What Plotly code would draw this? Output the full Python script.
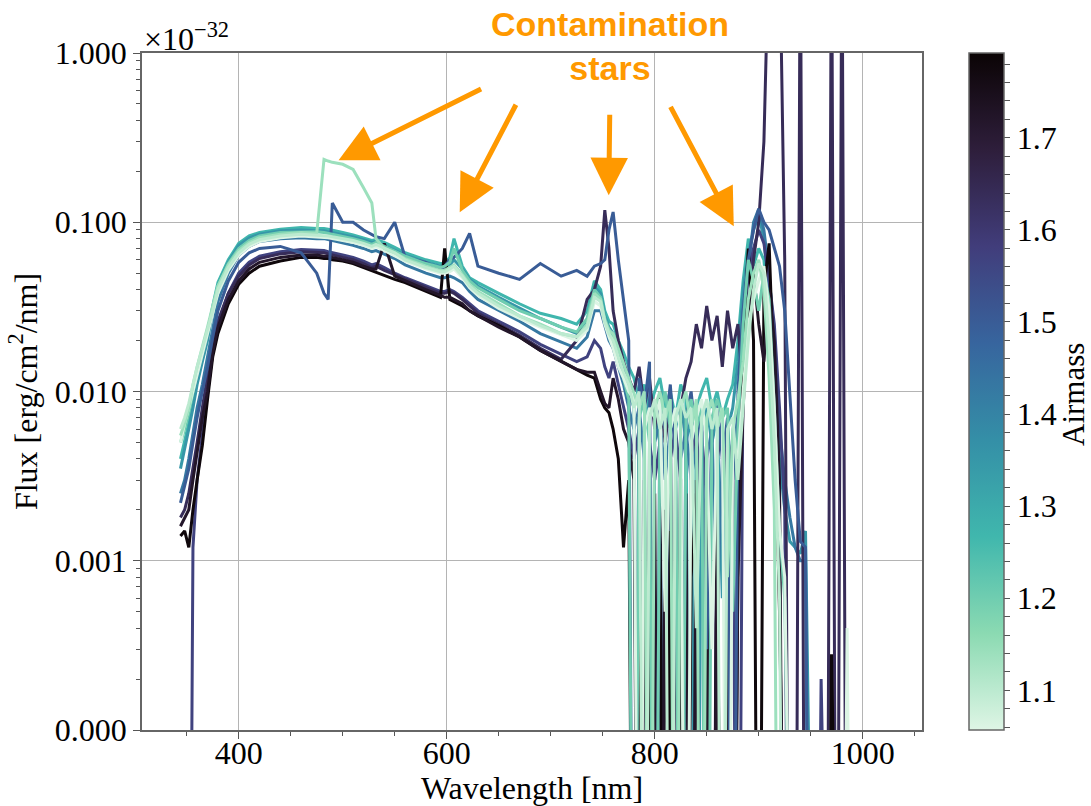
import plotly.graph_objects as go

# ---------------- data (flux in units of 1e-3 x 1e-32 erg/cm2/nm; 0 = at/below floor) -------------
wavelength = [344, 348, 352, 356, 360, 365, 370, 375, 380, 390,
              400, 410, 420, 440, 460, 475, 482, 486, 490, 500,
              510, 520, 528, 532, 540, 550, 560, 580, 594, 598,
              603, 607, 615, 622, 630, 650, 670, 690, 710, 725,
              735, 742, 748, 752, 756,
              760, 765, 770, 775, 780, 785, 790, 795, 800, 805,
              810, 815, 820, 825, 830, 835, 840, 845, 850, 855,
              860, 865, 870, 875, 880, 885, 890, 895, 900, 905,
              910, 915, 920, 925, 930, 935, 940, 945, 950, 955,
              960, 965, 970, 975, 980, 985, 990]

airmass = [1.06, 1.10, 1.14, 1.20, 1.27, 1.35, 1.43, 1.50, 1.57, 1.64, 1.72, 1.78]

flux_am106 = [5, 6.5, 8, 10, 13, 17, 22, 29, 38, 52, 64, 72, 77, 81, 83, 82, 82, 81, 80, 78,
              76, 73, 70, 72, 68, 64, 59, 53, 50, 50, 51, 53, 47, 41, 37, 31, 27, 24, 21.5, 20,
              23, 34, 32, 25, 21,
              18, 14, 12, 10, 9, 0, 6, 8, 7, 9, 0.5, 6, 8, 6, 0, 5, 7, 9, 5, 0.3,
              6, 8, 0, 5, 4, 10, 25, 35, 45, 55, 30, 8, 1.5, 0.8, 0, 0, 0, 0, 0, 0,
              0, 0, 0, 0, 0, 0.4, 0]
flux_am110 = [6, 7, 8.5, 11, 14, 18, 23, 30, 40, 54, 66, 74, 79, 83, 85, 84, 84, 83, 82, 80,
              78, 75, 72, 74, 70, 66, 60, 54, 51, 51, 53, 55, 48, 42, 38, 32, 28, 24.5, 22, 21,
              24, 36, 34, 26, 22,
              20, 16, 13, 11, 8, 10, 0, 7, 9, 6, 8, 0, 7, 9, 7, 8, 0.4, 7, 9, 6,
              8, 0, 6, 7, 3, 8, 20, 40, 57, 50, 20, 5, 0.6, 0, 0, 0, 0, 0, 0, 0,
              0, 0, 0, 0, 0, 0, 0]
flux_am114 = [5.5, 6.5, 8, 11, 14, 18, 24, 32, 42, 56, 68, 76, 81, 85, 87, 86, 235, 230, 226, 220,
              205, 160, 130, 80, 70, 66, 61, 55, 52, 52, 54, 56, 49, 43, 39, 33, 28, 25, 22, 21,
              25, 38, 35, 26, 23,
              22, 18, 15, 12, 10, 8, 10, 0, 8, 10, 7, 9, 0, 8, 10, 6, 9, 0, 7, 9,
              6, 8, 0.8, 6, 9, 15, 35, 50, 60, 40, 12, 2, 0, 0, 0, 0, 0, 0, 0, 0,
              0, 0, 0, 0, 0, 0, 0]
flux_am120 = [5, 6, 7.5, 10, 13, 17, 23, 31, 42, 57, 70, 78, 83, 87, 88, 88, 87, 86, 85, 83,
              80, 77, 74, 76, 72, 68, 63, 57, 54, 55, 58, 70, 52, 45, 41, 35, 30, 27, 24, 22.5,
              27, 40, 36, 27, 23,
              20, 15, 12, 9, 0, 7, 9, 5, 0, 7, 10, 6, 8, 0, 7, 9, 6, 8, 0, 7,
              9, 7, 8, 0.5, 6, 25, 60, 45, 30, 50, 35, 8, 1.5, 0.6, 0, 0, 0, 0, 0, 0,
              0, 0, 0, 0, 0, 0, 0]
flux_am127 = [4, 5, 6.5, 9, 12, 16, 22, 32, 44, 60, 75, 83, 87, 91, 93, 92, 92, 91, 90, 87,
              84, 81, 78, 79, 76, 71, 66, 60, 57, 57, 62, 80, 55, 47, 44, 38, 33, 29, 27, 25,
              30, 45, 40, 30, 26,
              25, 20, 17, 14, 12, 9, 11, 8, 10, 12, 8, 10, 7, 11, 9, 0, 8, 10, 12, 8,
              10, 7, 9, 11, 20, 45, 80, 55, 70, 60, 25, 6, 1.2, 0, 0, 0, 0, 0, 0, 0,
              0, 0, 0, 0, 0, 0, 0]
flux_am135 = [3.5, 4.5, 6, 8, 11, 15, 20, 30, 42, 58, 73, 81, 85, 89, 90, 89, 89, 88, 87, 85,
              82, 79, 76, 77, 73, 69, 64, 58, 55, 55, 56, 60, 53, 46, 42, 36, 31, 27, 24, 22,
              26, 42, 38, 28, 24,
              22, 18, 14, 10, 8, 0, 6, 9, 7, 5, 0, 8, 6, 9, 5, 7, 0, 6, 8, 5,
              7, 0.6, 6, 8, 15, 40, 65, 90, 110, 80, 35, 10, 4, 2, 1.3, 1.2, 1.1, 1.5, 0, 0,
              0, 0, 0, 0, 0, 0, 0]
flux_am143 = [2.5, 3, 4, 5.5, 8, 11, 16, 24, 34, 50, 64, 72, 77, 80, 81, 80, 80, 79, 78, 76,
              73, 70, 67, 68, 65, 61, 56, 50, 47, 47, 48, 47, 44, 39, 35, 30, 26, 22, 19.5, 18,
              21, 30, 30, 24, 20,
              18, 14, 11, 8, 6, 8, 4, 0, 5, 7, 3, 6, 0, 4, 6, 3, 5, 0, 4, 6,
              0.5, 4, 6, 3, 8, 30, 55, 100, 120, 90, 50, 20, 6, 3, 1.8, 1.2, 1.0, 1.0, 0, 0,
              0, 0, 0, 0, 0, 0, 0]
flux_am150 = [2.2, 2.8, 3.5, 5, 7, 10, 14, 21, 30, 45, 58, 66, 70, 72, 66, 50, 38, 35, 130, 100,
              100, 90, 85, 82, 80, 100, 62, 58, 52, 55, 60, 62, 70, 86, 55, 50, 46, 57, 48, 52,
              48, 55, 57, 60, 90,
              115, 60, 35, 20, 0, 12, 8, 15, 0, 9, 6, 11, 4, 0, 7, 10, 5, 8, 0.3, 6,
              9, 4, 7, 0, 10, 30, 60, 90, 120, 100, 90, 70, 55, 30, 10, 3, 1.3, 1.2, 0, 0,
              0, 0, 0, 0, 0, 0, 0]
flux_am157 = [0, 0, 0, 1.2, 3, 5.5, 10, 17, 25, 38, 50, 58, 63, 67, 69, 68, 68, 67, 66, 64,
              62, 59, 56, 57, 54, 50, 47, 42, 39, 39, 40, 39, 36, 33, 30, 26, 22.5, 19, 16.5, 15,
              16, 20, 18, 14, 12,
              15, 11, 8, 6, 4, 6, 0, 5, 3, 5, 0, 4, 6, 3, 0, 4, 6, 2, 5, 0,
              4, 6, 3, 5, 0, 20, 50, 70, 90, 75, 45, 25, 8, 2, 0, 0, 0, 0, 0, 0,
              0.2, 0, 0, 0, 0, 0, 0]
flux_am164 = [1.8, 2, 2.5, 3.5, 5, 8, 12, 19, 26, 38, 48, 56, 61, 65, 67, 66, 66, 65, 64, 62,
              60, 57, 54, 55, 52, 49, 46, 41, 38, 38, 39, 38, 35, 32, 29, 25, 21.5, 18, 15.5, 20,
              35, 40, 55, 118, 70,
              30, 20, 15, 12, 10, 14, 8, 12, 6, 10, 5, 9, 0, 8, 12, 15, 25, 18, 32, 20,
              28, 14, 30, 18, 25, 10, 30, 60, 100, 300, 5000, 5000, 5000, 60, 0, 0, 9000, 0, 0, 0,
              0, 0, 9000, 0, 9000, 0, 0]
flux_am172 = [1.6, 1.8, 2, 3, 4.5, 7, 10, 17, 24, 35, 45, 53, 58, 62, 64, 64, 63, 63, 62, 60,
              58, 55, 53, 53, 75, 48, 45, 40, 37, 36, 36, 35, 33, 30, 28, 24, 21, 17.5, 15, 13.5,
              13, 13, 10, 8.5, 8,
              12, 9, 6, 5, 3, 0, 3, 0, 2.5, 0, 2, 0, 3, 0, 2.5, 0, 3, 0, 2, 0,
              2.5, 0, 1.5, 0, 0.8, 8, 30, 50, 25, 15, 40, 20, 3, 0, 0, 0, 0, 0, 0, 0,
              0, 0, 0, 0, 0, 0, 0]
flux_am178 = [1.4, 1.5, 1.2, 2, 3, 4.8, 9, 16, 22, 33, 43, 50, 55, 59, 62, 62, 61, 61, 60, 59,
              57, 54, 52, 51, 49, 46, 44, 39, 36, 70, 35, 34, 32, 30, 28, 24.5, 21, 17.5, 15, 13.5,
              12.5, 12, 9, 8, 7.5,
              6, 4, 1.2, 3, 0, 2, 0, 1.8, 0, 2.2, 0, 1.5, 0, 2, 0, 0.8, 2.5, 0, 1.6, 0,
              2, 0, 2.2, 0, 1, 20, 70, 20, 0, 40, 75, 10, 0.5, 0, 0, 0, 0, 0, 0, 0,
              0, 0, 0.28, 0, 0, 0, 0]

flux_series = [flux_am106, flux_am110, flux_am114, flux_am120, flux_am127, flux_am135,
               flux_am143, flux_am150, flux_am157, flux_am164, flux_am172, flux_am178]

# drawing order (observation order): teal/blue first, then dark, then light mint on top
draw_order = [1.27, 1.35, 1.43, 1.57, 1.64, 1.78, 1.72, 1.50, 1.20, 1.06, 1.14, 1.10]

y_ticks = [1e-4, 1e-3, 1e-2, 1e-1, 1]
y_ticktext = ["0.000", "0.001", "0.010", "0.100", "1.000"]
x_ticks = [400, 600, 800, 1000]
cbar_ticks = [1.1, 1.2, 1.3, 1.4, 1.5, 1.6, 1.7]

for s in flux_series:
    assert len(s) == len(wavelength), (len(s), len(wavelength))

# ---------------- styling ----------------
CMIN, CMAX = 1.057, 1.792
mako_r = [(0.0, '#def5e5'), (1/7, '#8bdab2'), (2/7, '#40b7ad'), (3/7, '#348fa7'),
          (4/7, '#37659e'), (5/7, '#413d7b'), (6/7, '#2e1e3b'), (1.0, '#0b0405')]


def hex2rgb(h):
    h = h.lstrip('#')
    return tuple(int(h[i:i + 2], 16) for i in (0, 2, 4))


def cmap(v):
    p = min(max((v - CMIN) / (CMAX - CMIN), 0), 1)
    for (p0, c0), (p1, c1) in zip(mako_r[:-1], mako_r[1:]):
        if p0 <= p <= p1:
            t = (p - p0) / (p1 - p0)
            a, b = hex2rgb(c0), hex2rgb(c1)
            return 'rgb(%d,%d,%d)' % tuple(round(a[i] + (b[i] - a[i]) * t) for i in range(3))
    return mako_r[-1][1]


SERIF = "Liberation Serif"
fig = go.Figure()

for am in draw_order:
    i = airmass.index(am)
    fig.add_trace(go.Scatter(
        x=wavelength,
        y=[max(v, 1e-4) * 1e-3 for v in flux_series[i]],
        mode='lines', line=dict(color=cmap(airmass[i]), width=3),
        showlegend=False, hoverinfo='skip'))

# colorbar carrier
minor_cb = [round(1.06 + 0.02 * k, 2) for k in range(37)]
cb_vals = sorted(set([v for v in minor_cb if CMIN <= v <= CMAX] + cbar_ticks))
cb_text = [("%.1f" % v) if any(abs(v - t) < 1e-9 for t in cbar_ticks) else "" for v in cb_vals]
fig.add_trace(go.Scatter(
    x=[None], y=[None], mode='markers', showlegend=False,
    marker=dict(color=[CMIN], cmin=CMIN, cmax=CMAX,
                colorscale=[[p, c] for p, c in mako_r], showscale=True,
                colorbar=dict(x=969 / 1091, xref='container', xanchor='left',
                              y=0.5, yanchor='middle', len=1, lenmode='fraction',
                              thickness=35, ypad=0, xpad=0,
                              outlinewidth=1.5, outlinecolor='#666',
                              ticks='outside', ticklen=6, tickwidth=1.2, tickcolor='#555',
                              tickvals=cb_vals, ticktext=cb_text,
                              tickfont=dict(family=SERIF, size=32, color='black')))))

fig.update_layout(
    width=1091, height=806,
    margin=dict(l=142, r=169, t=53, b=76, autoexpand=False),
    paper_bgcolor='white', plot_bgcolor='white',
    font=dict(family=SERIF, size=32, color='black'),
    xaxis=dict(range=[307, 1057], tickvals=x_ticks, ticks='outside', ticklen=7,
               tickwidth=1.2, tickcolor='#555', ticklabelstandoff=-13,
               showgrid=True, gridcolor='#b4b4b4', gridwidth=1,
               showline=True, linecolor='#666', linewidth=1.5, mirror=True,
               zeroline=False,
               minor=dict(tickvals=[350, 450, 500, 550, 650, 700, 750, 850, 900, 950, 1050],
                          ticks='outside', ticklen=4, tickcolor='#555', showgrid=False),
               title=dict(text="Wavelength [nm]", standoff=4,
                          font=dict(family=SERIF, size=32)),
               tickfont=dict(family=SERIF, size=32), automargin=False),
    yaxis=dict(type='log', range=[-4, 0], tickvals=y_ticks, ticktext=y_ticktext,
               ticks='outside', ticklen=7, tickwidth=1.2, tickcolor='#555',
               showgrid=True, gridcolor='#b4b4b4', gridwidth=1,
               showline=True, linecolor='#666', linewidth=1.5, mirror=True,
               zeroline=False,
               minor=dict(tickvals=[m * 10 ** e for e in range(-4, 0) for m in range(2, 10)],
                          ticks='outside', ticklen=4, tickcolor='#555', showgrid=False),
               title=dict(text="Flux [erg/cm<sup>2</sup>/nm]", standoff=8,
                          font=dict(family=SERIF, size=32)),
               tickfont=dict(family=SERIF, size=32), automargin=False),
)

ORANGE = '#ff9900'
annotations = [
    dict(text="×10<sup>−32</sup>", xref='paper', yref='paper', x=0, y=1,
         xanchor='left', yanchor='bottom', showarrow=False,
         font=dict(family=SERIF, size=32, color='black'), yshift=-6),
    dict(text="Airmass", xref='paper', yref='paper', x=(1073 - 142) / 780, y=(730 - 395) / 677,
         xanchor='center', yanchor='middle', textangle=-90, showarrow=False,
         font=dict(family=SERIF, size=31, color='black')),
    dict(text="<b>Contamination<br>stars</b>", xref='paper', yref='paper',
         x=(610 - 142) / 780, y=(730 - 3) / 677, xanchor='center', yanchor='top',
         showarrow=False, font=dict(family="Liberation Sans", size=34, color=ORANGE)),
]
# arrows: tip in data coords (x nm, log10 flux), tail as pixel offsets
arrows = [(496, -0.633, 144, -72), (612.5, -0.941, 57, -109),
          (755.8, -0.840, 1, -82), (876, -1.024, -64, -121)]
for x, ly, ax, ay in arrows:
    annotations.append(dict(x=x, y=ly, xref='x', yref='y', ax=ax, ay=ay, text='',
                            showarrow=True, arrowhead=2, arrowsize=1.5, arrowwidth=5,
                            arrowcolor=ORANGE, standoff=0))
fig.update_layout(annotations=annotations)

fig.write_html("out.html", config={'displayModeBar': False},
               post_script="document.body.style.margin='0px';")
